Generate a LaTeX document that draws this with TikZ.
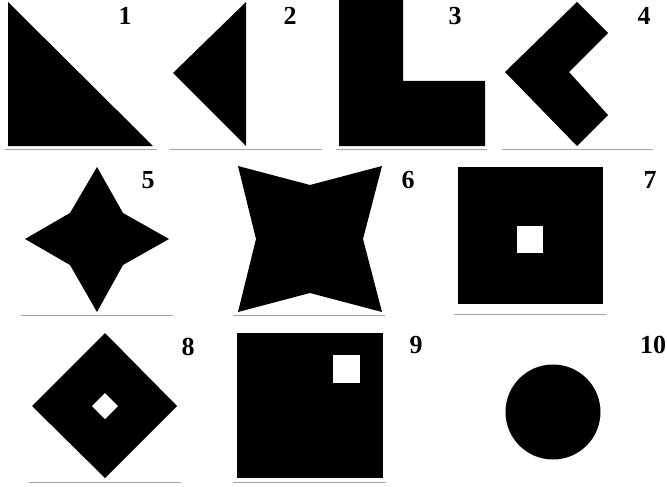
\documentclass[tikz,border=0pt]{standalone}
\usepackage{fontspec}
\setmainfont{Liberation Serif}
\begin{document}
\begin{tikzpicture}[x=1pt,y=-1pt,
  shapefill/.style={fill=black},
  hole/.style={fill=white},
  baseline rule/.style={draw=black!35,line width=1pt},
  numlabel/.style={font=\fontsize{26}{26}\selectfont\bfseries,inner sep=0pt}]
\useasboundingbox[fill=white] (0,0) rectangle (667,487);
% Row 1
\fill[shapefill] (8,2) -- (8,146) -- (153,146) -- cycle;
\draw[baseline rule] (5,149) -- (157,149);
\node[numlabel] (n1) at (125,16) {1};
\fill[shapefill] (246,2) -- (173,73) -- (246,146) -- cycle;
\draw[baseline rule] (170,149) -- (322,149);
\node[numlabel] (n2) at (290,16) {2};
\fill[shapefill] (339,0) -- (403,0) -- (403,81) -- (485,81) -- (485,146) -- (339,146) -- cycle;
\draw[baseline rule] (336,149) -- (487,149);
\node[numlabel] (n3) at (455,16) {3};
\fill[shapefill] (577,2) -- (608,33) -- (569,72) -- (608,115) -- (577,146) -- (505,72) -- cycle;
\draw[baseline rule] (502,149) -- (653,149);
\node[numlabel] (n4) at (644,16) {4};
% Row 2
\fill[shapefill] (97,167) -- (123,213) -- (169,239) -- (123,265) -- (97,312) -- (70,265) -- (25,239) -- (70,213) -- cycle;
\draw[baseline rule] (21,315) -- (173,315);
\node[numlabel] (n5) at (148,180) {5};
\fill[shapefill] (238,166) -- (310,185) -- (382,166) -- (363,239) -- (382,312) -- (310,293) -- (238,312) -- (256,239) -- cycle;
\draw[baseline rule] (233,315) -- (385,315);
\node[numlabel] (n6) at (408,180) {6};
\fill[shapefill] (458,167) rectangle (603,304);
\fill[hole] (517,226) rectangle (543,253);
\draw[baseline rule] (454,314) -- (606,314);
\node[numlabel] (n7) at (650,180) {7};
% Row 3
\fill[shapefill] (105,333) -- (177,406) -- (105,478) -- (32,406) -- cycle;
\fill[hole] (105,393) -- (118,406) -- (105,419) -- (92,406) -- cycle;
\draw[baseline rule] (29,482) -- (181,482);
\node[numlabel] (n8) at (188,347) {8};
\fill[shapefill] (237,333) rectangle (383,478);
\fill[hole] (333,355) rectangle (360,383);
\draw[baseline rule] (233,482) -- (386,482);
\node[numlabel] (n9) at (416,345) {9};
\fill[shapefill] (553,412) circle[radius=47.5];
\node[numlabel] (n10) at (653,345) {10};
\end{tikzpicture}
\end{document}
